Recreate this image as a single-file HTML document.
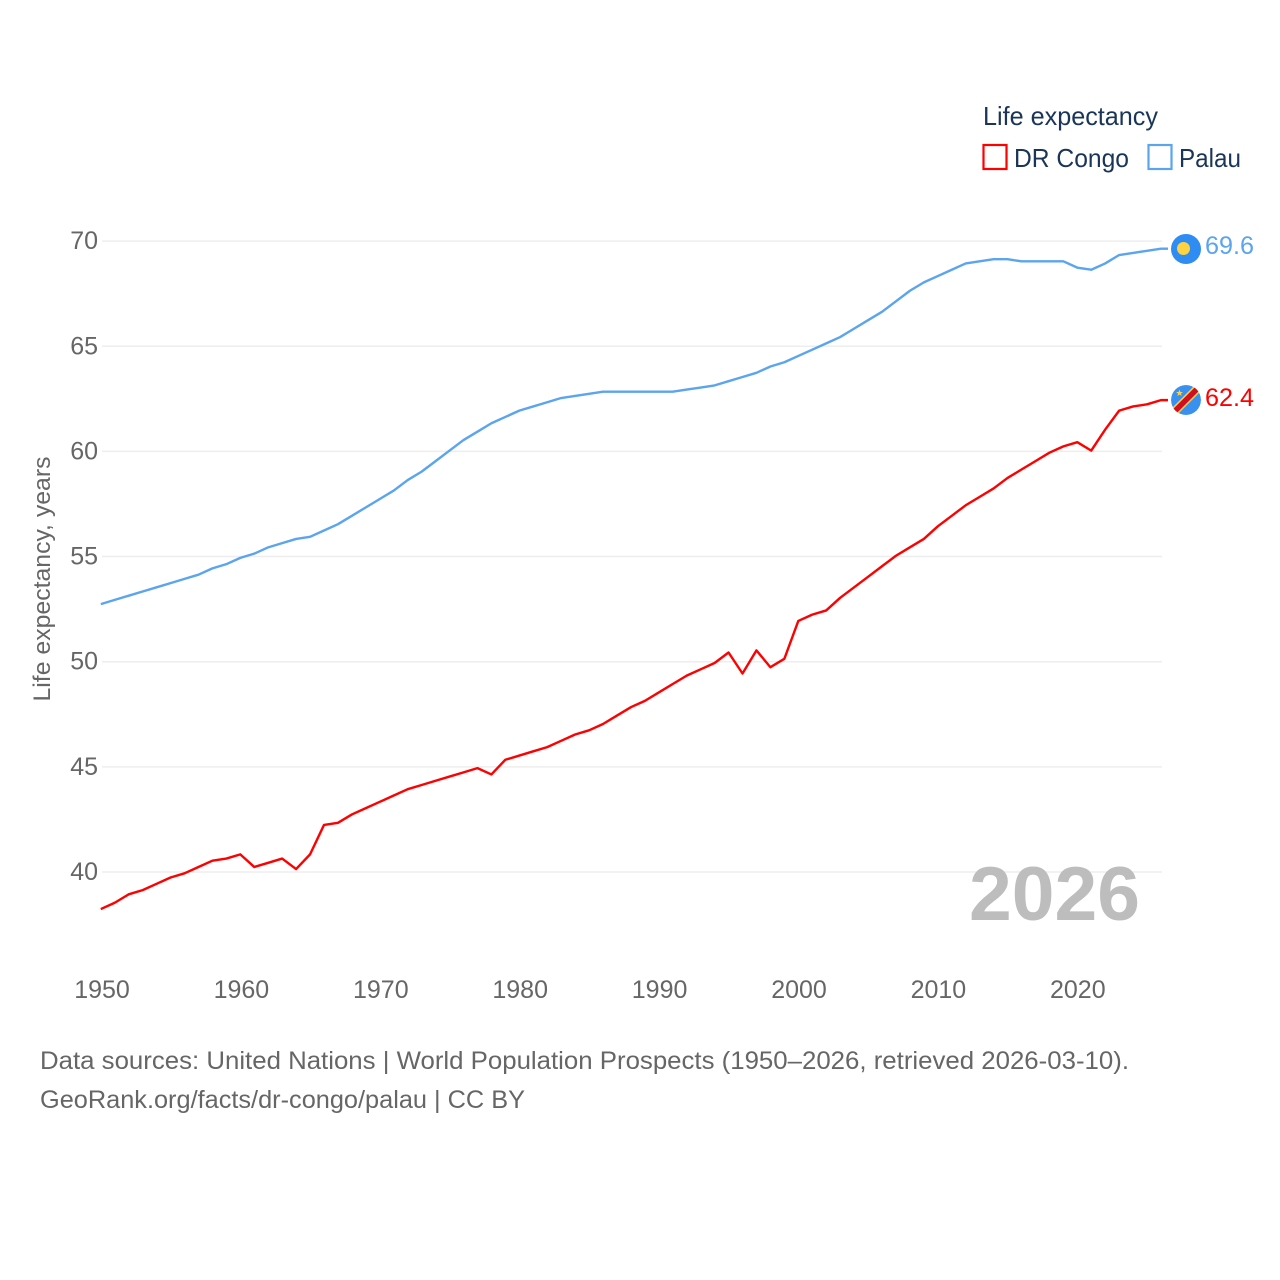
<!DOCTYPE html>
<html lang="en">
<head>
<meta charset="utf-8">
<title>Life expectancy: DR Congo and Palau</title>
<style>
html,body{margin:0;padding:0;background:#fff;width:1280px;height:1280px;overflow:hidden}
svg{display:block}
text{font-family:"Liberation Sans",sans-serif}
</style>
</head>
<body>
<svg id="chart" xmlns="http://www.w3.org/2000/svg" width="1280" height="1280" viewBox="0 0 1280 1280">
  <defs>
    <clipPath id="flag-clip"><circle cx="1186" cy="400" r="15"/></clipPath>
  </defs>
  <g id="grid"></g>
  <g id="y-ticks"></g>
  <g id="x-ticks"></g>
  <text x="42" y="579" transform="rotate(-90 42 579) translate(0 8)" text-anchor="middle" font-size="24" fill="#666" textLength="245" lengthAdjust="spacingAndGlyphs">Life expectancy, years</text>

  <text x="1140" y="920" text-anchor="end" font-size="76" font-weight="bold" fill="#bdbdbd" textLength="171" lengthAdjust="spacingAndGlyphs">2026</text>

  <g id="series"></g>

  <g id="flag-palau">
    <circle cx="1186" cy="249" r="15" fill="#2f8cf3"/>
    <circle cx="1183.500" cy="248.500" r="6.500" fill="#ffd23f"/>
  </g>
  <g id="flag-congo" clip-path="url(#flag-clip)">
    <circle cx="1186" cy="400" r="15" fill="#3a90ee"/>
    <line x1="1170" y1="416" x2="1202" y2="384" stroke="#f7d24a" stroke-width="8.500"/>
    <line x1="1170" y1="416" x2="1202" y2="384" stroke="#ce1021" stroke-width="5.500"/>
    <polygon points="1179.500,389.500 1180.400,392 1183,392 1180.900,393.600 1181.700,396 1179.500,394.600 1177.300,396 1178.100,393.600 1176,392 1178.600,392" fill="#f7d24a"/>
  </g>

  <text x="1205" y="254" font-size="25" fill="#5ba4ee" textLength="49" lengthAdjust="spacingAndGlyphs">69.6</text>
  <text x="1205" y="406" font-size="25" fill="#ff0000" textLength="49" lengthAdjust="spacingAndGlyphs">62.4</text>

  <g>
    <text x="983" y="125" font-size="26" fill="#1a3558" textLength="175" lengthAdjust="spacingAndGlyphs">Life expectancy</text>
    <rect x="983.500" y="145" width="23" height="24" fill="none" stroke="#ff0000" stroke-width="2.200"/>
    <text x="1014" y="167" font-size="26" fill="#1a3558" textLength="115" lengthAdjust="spacingAndGlyphs">DR Congo</text>
    <rect x="1148.500" y="145" width="23" height="24" fill="none" stroke="#5ba4ee" stroke-width="2.200"/>
    <text x="1179" y="167" font-size="26" fill="#1a3558" textLength="62" lengthAdjust="spacingAndGlyphs">Palau</text>
  </g>

  <text x="40" y="1069" font-size="25" fill="#666" textLength="1089" lengthAdjust="spacingAndGlyphs">Data sources: United Nations | World Population Prospects (1950–2026, retrieved 2026-03-10).</text>
  <text x="40" y="1108" font-size="25" fill="#666" textLength="485" lengthAdjust="spacingAndGlyphs">GeoRank.org/facts/dr-congo/palau | CC BY</text>
</svg>
<script>
const startYear = 1950;
const yTickValues = [40, 45, 50, 55, 60, 65, 70];
const xTickValues = [1950, 1960, 1970, 1980, 1990, 2000, 2010, 2020];
const drCongoValues = [
  38.2, 38.5, 38.9, 39.1, 39.4, 39.7, 39.9, 40.2, 40.5, 40.6,
  40.8, 40.2, 40.4, 40.6, 40.1, 40.8, 42.2, 42.3, 42.7, 43.0,
  43.3, 43.6, 43.9, 44.1, 44.3, 44.5, 44.7, 44.9, 44.6, 45.3,
  45.5, 45.7, 45.9, 46.2, 46.5, 46.7, 47.0, 47.4, 47.8, 48.1,
  48.5, 48.9, 49.3, 49.6, 49.9, 50.4, 49.4, 50.5, 49.7, 50.1,
  51.9, 52.2, 52.4, 53.0, 53.5, 54.0, 54.5, 55.0, 55.4, 55.8,
  56.4, 56.9, 57.4, 57.8, 58.2, 58.7, 59.1, 59.5, 59.9, 60.2,
  60.4, 60.0, 61.0, 61.9, 62.1, 62.2, 62.4
];
const palauValues = [
  52.7, 52.9, 53.1, 53.3, 53.5, 53.7, 53.9, 54.1, 54.4, 54.6,
  54.9, 55.1, 55.4, 55.6, 55.8, 55.9, 56.2, 56.5, 56.9, 57.3,
  57.7, 58.1, 58.6, 59.0, 59.5, 60.0, 60.5, 60.9, 61.3, 61.6,
  61.9, 62.1, 62.3, 62.5, 62.6, 62.7, 62.8, 62.8, 62.8, 62.8,
  62.8, 62.8, 62.9, 63.0, 63.1, 63.3, 63.5, 63.7, 64.0, 64.2,
  64.5, 64.8, 65.1, 65.4, 65.8, 66.2, 66.6, 67.1, 67.6, 68.0,
  68.3, 68.6, 68.9, 69.0, 69.1, 69.1, 69.0, 69.0, 69.0, 69.0,
  68.7, 68.6, 68.9, 69.3, 69.4, 69.5, 69.6
];

const NS = 'http://www.w3.org/2000/svg';
const gridX = year => 102 + (year - 1950) * 13.94;
const lineX = year => 100.8 + (year - 1950) * 13.95;
const gridY = value => 872 - (value - 40) * 21.03;
const lineY = value => gridY(value) - 0.8;

function make(tag, attrs, parent) {
  const el = document.createElementNS(NS, tag);
  for (const k in attrs) el.setAttribute(k, attrs[k]);
  parent.appendChild(el);
  return el;
}

const gridGroup = document.getElementById('grid');
const yTickGroup = document.getElementById('y-ticks');
yTickValues.forEach(v => {
  const line = make('line', {x1: 102, x2: 1162, y1: gridY(v), y2: gridY(v), stroke: '#eeeeee', 'stroke-width': 1.5}, gridGroup);
  
  
  const label = make('text', {x: 98, y: gridY(v) + 8, 'text-anchor': 'end', 'font-size': 25, fill: '#666'}, yTickGroup);
  
  
  label.textContent = v;
});

const xTickGroup = document.getElementById('x-ticks');
xTickValues.forEach(y => {
  const label = make('text', {x: gridX(y), y: 998, 'text-anchor': 'middle', 'font-size': 25, fill: '#666'}, xTickGroup);
  
  
  label.textContent = y;
});

const seriesGroup = document.getElementById('series');
function drawSeries(values, color) {
  const pts = values.map((v, i) => lineX(startYear + i).toFixed(2) + ',' + lineY(v).toFixed(2));
  const last = values[values.length - 1];
  pts.push('1168,' + lineY(last).toFixed(2));
  return make('polyline', {points: pts.join(' '), fill: 'none', stroke: color, 'stroke-width': 2.4, 'stroke-linejoin': 'round'}, seriesGroup);
}
const palauLine = drawSeries(palauValues, '#5ba4ee');


const congoLine = drawSeries(drCongoValues, '#ff0000');


</script>
</body>
</html>
